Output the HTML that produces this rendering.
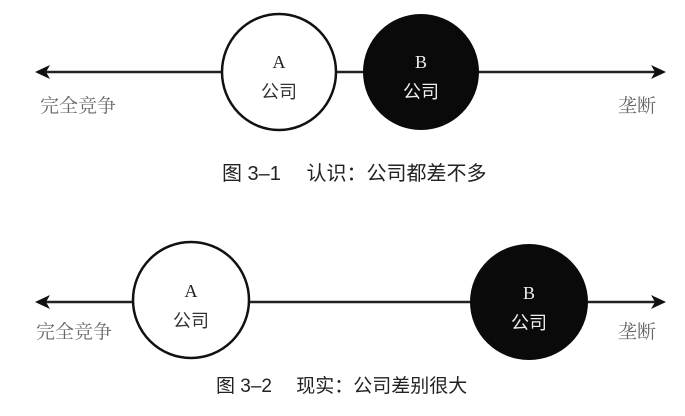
<!DOCTYPE html>
<html><head><meta charset="utf-8"><style>
body{margin:0;background:#fff}
svg text{font-family:"Liberation Serif","Noto Serif CJK SC",serif}
.cap{font-family:"Liberation Sans","Noto Sans CJK SC",sans-serif}
</style></head><body>
<svg width="685" height="411" viewBox="0 0 685 411" xmlns="http://www.w3.org/2000/svg">
<rect width="685" height="411" fill="#fff"/>
<!-- Figure 1 -->
<line x1="40" y1="72" x2="660" y2="72" stroke="#222" stroke-width="2.5"/>
<polygon points="35,72 50,65 46,72 50,79" fill="#111"/>
<polygon points="666,72 651,65 655,72 651,79" fill="#111"/>
<ellipse cx="279" cy="72" rx="57" ry="58" fill="#fff" stroke="#111" stroke-width="2.5"/>
<ellipse cx="421" cy="72" rx="58" ry="58" fill="#0a0a0a"/>
<text x="279" y="68" font-size="18" text-anchor="middle" fill="#222">A</text>
<text x="279" y="98" font-size="18" text-anchor="middle" fill="#333" class="cap">公司</text>
<text x="421" y="68" font-size="18" text-anchor="middle" fill="#eee">B</text>
<text x="421" y="98" font-size="18" text-anchor="middle" fill="#eee" class="cap">公司</text>
<text x="40" y="112" font-size="19" fill="#666">完全竞争</text>
<text x="618" y="112" font-size="19" fill="#666">垄断</text>
<text x="222" y="180" font-size="20" fill="#222" class="cap">图 3–1　 认识：公司都差不多</text>
<!-- Figure 2 -->
<line x1="40" y1="302" x2="660" y2="302" stroke="#222" stroke-width="2.5"/>
<polygon points="35,302 50,295 46,302 50,309" fill="#111"/>
<polygon points="666,302 651,295 655,302 651,309" fill="#111"/>
<ellipse cx="191" cy="300" rx="58" ry="58" fill="#fff" stroke="#111" stroke-width="2.5"/>
<ellipse cx="529" cy="302" rx="59" ry="58" fill="#0a0a0a"/>
<text x="191" y="297" font-size="18" text-anchor="middle" fill="#222">A</text>
<text x="191" y="327" font-size="18" text-anchor="middle" fill="#333" class="cap">公司</text>
<text x="529" y="299" font-size="18" text-anchor="middle" fill="#eee">B</text>
<text x="529" y="329" font-size="18" text-anchor="middle" fill="#eee" class="cap">公司</text>
<text x="36" y="338" font-size="19" fill="#666">完全竞争</text>
<text x="618" y="338" font-size="19" fill="#666">垄断</text>
<text x="216" y="392" font-size="19" fill="#222" class="cap">图 3–2　 现实：公司差别很大</text>
</svg>
</body></html>
